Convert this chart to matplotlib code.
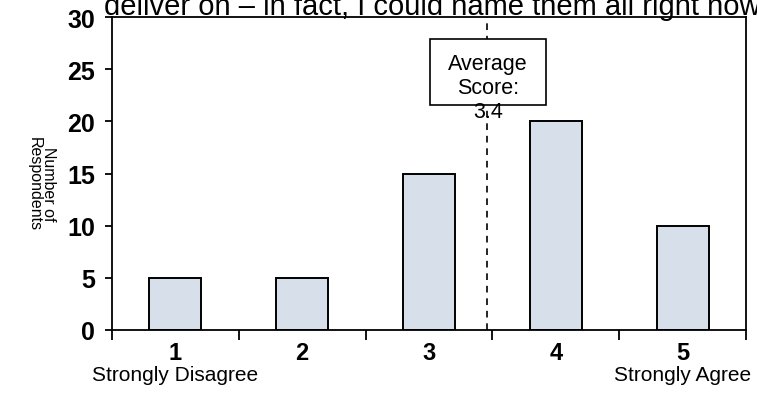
import numpy as np
import matplotlib
matplotlib.use("Agg")
import matplotlib.pyplot as plt
from matplotlib.patches import Rectangle
from matplotlib.ticker import MultipleLocator, FixedLocator

plt.rcParams["font.family"] = ["Liberation Sans", "DejaVu Sans"]

# ── Survey data ──────────────────────────────────────────────────────────────
scores      = [1, 2, 3, 4, 5]
respondents = [5, 5, 15, 20, 10]
end_labels  = {1: "Strongly Disagree", 5: "Strongly Agree"}
title       = "deliver on \u2013 in fact, I could name them all right now"

BAR_COLOR = "#d6dfea"

avg = np.dot(scores, respondents) / np.sum(respondents)
avg_label = f"{np.floor(avg * 10) / 10:.1f}"

fig = plt.figure(figsize=(7.57, 4.06), dpi=100)
ax = fig.add_axes([112 / 757, 1 - 331 / 406, (746 - 112) / 757, (331 - 18) / 406])

x = np.arange(len(scores))
ax.bar(x, respondents, width=0.41, color=BAR_COLOR, edgecolor="black",
       linewidth=1.4, zorder=2)

ax.set_xlim(-0.5, len(scores) - 0.5)
ax.set_ylim(0, 30)

# average marker: dashed line plus a white label box (text spills below it)
avg_x = avg - 1
ax.plot([avg_x, avg_x], [0, 30], color="black", lw=1.2,
        linestyle=(0, (4, 3.5)), zorder=3)
ax.add_patch(Rectangle((avg_x - 0.45, 21.6), 0.92, 6.3, facecolor="white",
                       edgecolor="black", lw=1.2, zorder=4))
ax.text(avg_x + 0.01, 23.25, "Average\nScore:\n" + avg_label, ha="center",
        va="center", fontsize=15.5, linespacing=1.2, zorder=5)

# axis styling
for sp in ax.spines.values():
    sp.set_linewidth(1.3)
ax.yaxis.set_major_locator(MultipleLocator(5))
ax.tick_params(axis="y", direction="out", length=5, width=1.3, pad=7,
               labelsize=18)
for lbl in ax.get_yticklabels():
    lbl.set_fontweight("bold")

ax.xaxis.set_major_locator(FixedLocator(x))
ax.set_xticklabels([str(s) for s in scores], fontweight="bold", fontsize=17)
ax.xaxis.set_minor_locator(FixedLocator(np.arange(-0.5, len(scores), 1.0)))
ax.tick_params(axis="x", which="major", length=0, pad=8)
ax.tick_params(axis="x", which="minor", direction="out", length=7, width=1.3)

for s, txt in end_labels.items():
    ax.text(s - 1, -0.142, txt, transform=ax.get_xaxis_transform(),
            ha="center", va="center", fontsize=15)

fig.text(41 / 757, 1 - 184 / 406, "Number of\nRespondents", rotation=270,
         ha="center", va="center", fontsize=11.5, linespacing=0.95)

fig.text(104 / 757, 1 - 15 / 406, title, ha="left", va="baseline",
         fontsize=21)

fig.savefig("out.png", dpi=100)
